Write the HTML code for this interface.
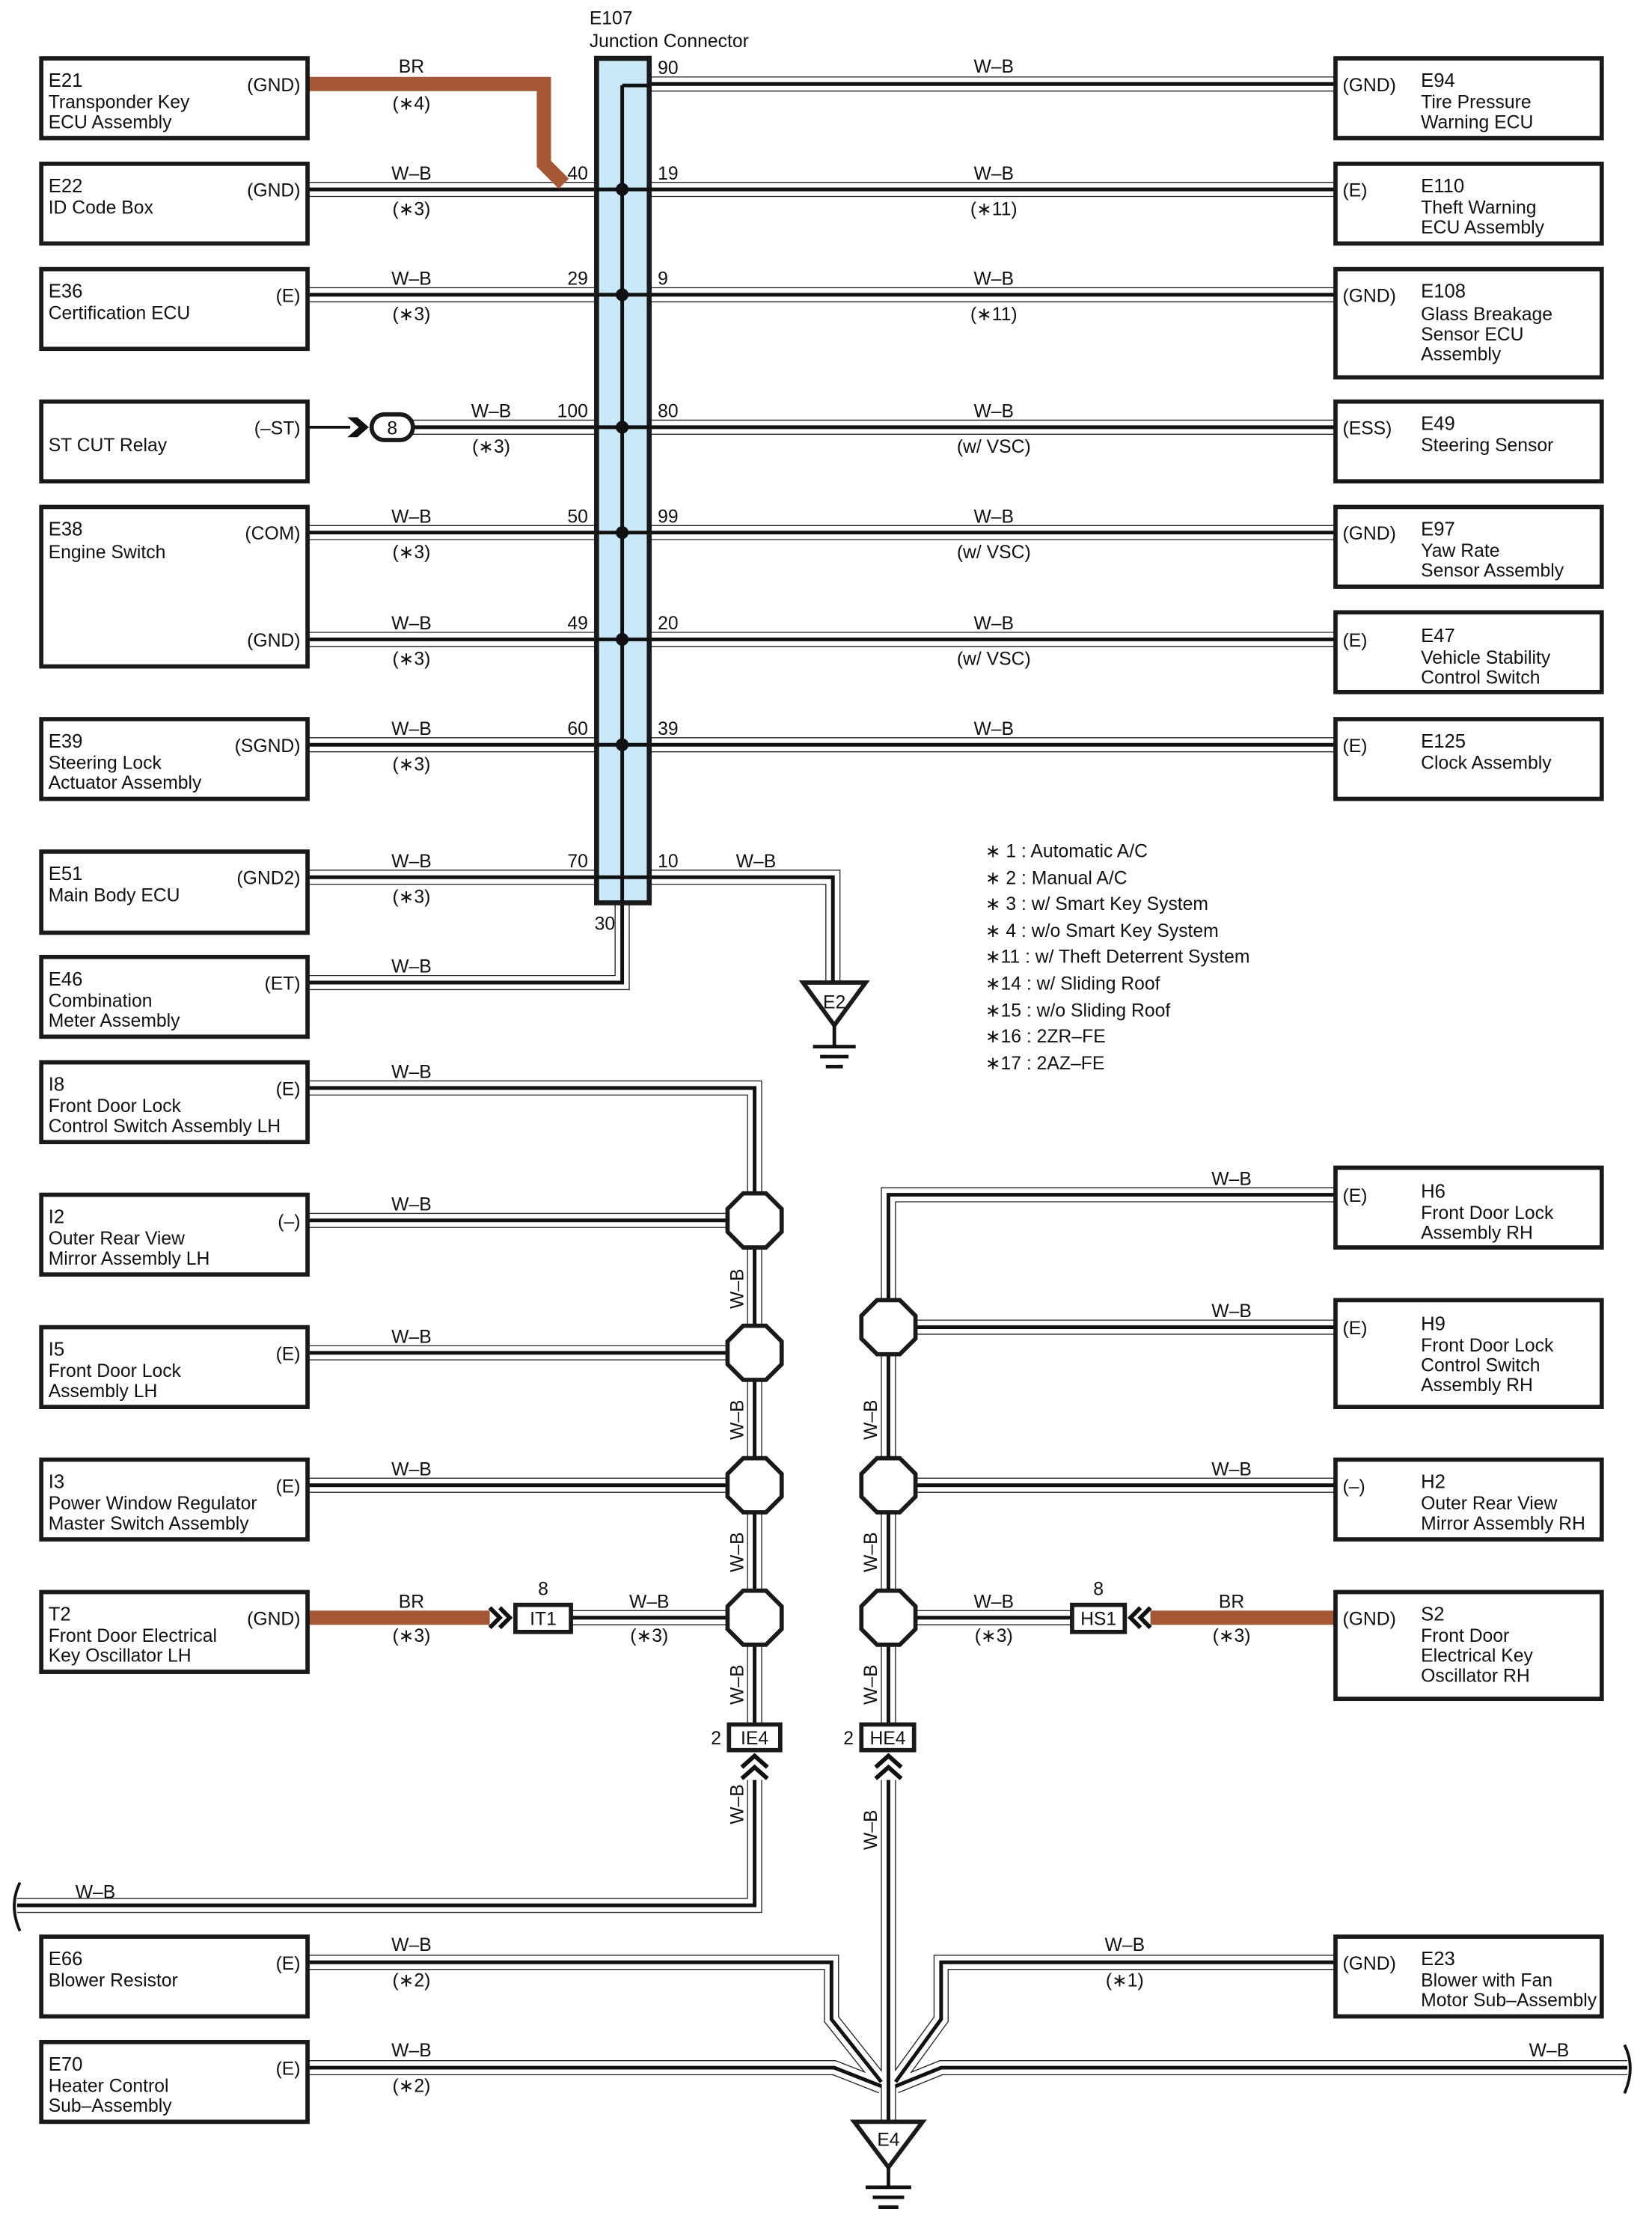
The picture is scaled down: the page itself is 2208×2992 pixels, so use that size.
<!DOCTYPE html>
<html><head><meta charset="utf-8">
<style>
html,body{margin:0;padding:0;background:#fff;}
svg{display:block;}
text{font-family:"Liberation Sans",sans-serif;font-size:13px;fill:#111;}
.b{fill:#fff;stroke:#1a1a1a;stroke-width:3;}
.id{font-size:13.5px;}
</style></head><body>
<svg width="2208" height="2992" viewBox="0 0 1160.3 1572.3" xmlns="http://www.w3.org/2000/svg">
<defs>
<g id="w" fill="none">
<path d="M216 133H419M456 133H938"/>
<path d="M216 207H419M456 207H938"/>
<path d="M290 300H419M456 300H938"/>
<path d="M216 374H419M456 374H938"/>
<path d="M216 449H419M456 449H938"/>
<path d="M216 523H419M456 523H938"/>
<path d="M216 616H419M456 616H585V690"/>
<path d="M216 690H437V635"/>
<path d="M456 59H938"/>
<path d="M216 764H530V1210"/>
<path d="M216 857H530M216 950H530M216 1043H530M401 1136H530"/>
<path d="M530 1250V1338H12"/>
<path d="M938 839H624V1210"/>
<path d="M938 932H624M938 1043H624M753 1136H624"/>
<path d="M624 1250V1490"/>
<path d="M216 1378H584V1418L619 1462"/>
<path d="M216 1452H586L619 1465"/>
<path d="M938 1378H661V1418L629 1462"/>
<path d="M1143 1452H661L629 1465"/>
</g>
</defs>
<use href="#w" stroke="#222" stroke-width="10.6"/>
<use href="#w" stroke="#fff" stroke-width="9.2"/>
<use href="#w" stroke="#111" stroke-width="2.6"/>

<!-- brown wires -->
<path d="M216 59H382V115L396 129" fill="none" stroke="#a65734" stroke-width="10"/>
<path d="M216 1136H344" stroke="#a65734" stroke-width="10"/>
<path d="M808 1136H938" stroke="#a65734" stroke-width="10"/>

<!-- junction connector -->
<rect x="419" y="41" width="37" height="593" fill="#c9e9f9" stroke="#1a1a1a" stroke-width="3.5"/>
<path d="M437 60V634M437 60H456" stroke="#111" stroke-width="2.6" fill="none"/>
<g stroke="#111" stroke-width="2.6">
<path d="M419 133H456M419 207H456M419 300H456M419 374H456M419 449H456M419 523H456M419 616H456"/>
</g>
<g fill="#111">
<circle cx="437" cy="133" r="4.5"/><circle cx="437" cy="207" r="4.5"/><circle cx="437" cy="300" r="4.5"/>
<circle cx="437" cy="374" r="4.5"/><circle cx="437" cy="449" r="4.5"/><circle cx="437" cy="523" r="4.5"/>
</g>
<text x="414" y="17">E107</text>
<text x="414" y="33">Junction Connector</text>

<!-- pin numbers -->
<g text-anchor="end">
<text x="413" y="126">40</text><text x="413" y="200">29</text><text x="413" y="293">100</text>
<text x="413" y="367">50</text><text x="413" y="442">49</text><text x="413" y="516">60</text>
<text x="413" y="609">70</text><text x="432" y="653">30</text>
</g>
<g>
<text x="462" y="52">90</text><text x="462" y="126">19</text><text x="462" y="200">9</text>
<text x="462" y="293">80</text><text x="462" y="367">99</text><text x="462" y="442">20</text>
<text x="462" y="516">39</text><text x="462" y="609">10</text>
</g>

<!-- wire labels -->
<g text-anchor="middle">
<text x="289" y="51">BR</text><text x="289" y="77">(∗4)</text>
<text x="289" y="126">W–B</text><text x="289" y="151">(∗3)</text>
<text x="289" y="200">W–B</text><text x="289" y="225">(∗3)</text>
<text x="345" y="293">W–B</text><text x="345" y="318">(∗3)</text>
<text x="289" y="367">W–B</text><text x="289" y="392">(∗3)</text>
<text x="289" y="442">W–B</text><text x="289" y="467">(∗3)</text>
<text x="289" y="516">W–B</text><text x="289" y="541">(∗3)</text>
<text x="289" y="609">W–B</text><text x="289" y="634">(∗3)</text>
<text x="289" y="683">W–B</text>
<text x="698" y="51">W–B</text>
<text x="698" y="126">W–B</text><text x="698" y="151">(∗11)</text>
<text x="698" y="200">W–B</text><text x="698" y="225">(∗11)</text>
<text x="698" y="293">W–B</text><text x="698" y="318">(w/ VSC)</text>
<text x="698" y="367">W–B</text><text x="698" y="392">(w/ VSC)</text>
<text x="698" y="442">W–B</text><text x="698" y="467">(w/ VSC)</text>
<text x="698" y="516">W–B</text>
<text x="531" y="609">W–B</text>
<text x="289" y="757">W–B</text><text x="289" y="850">W–B</text><text x="289" y="943">W–B</text>
<text x="289" y="1036">W–B</text>
<text x="289" y="1129">BR</text><text x="289" y="1153">(∗3)</text>
<text x="456" y="1129">W–B</text><text x="456" y="1153">(∗3)</text>
<text x="865" y="832">W–B</text><text x="865" y="925">W–B</text><text x="865" y="1036">W–B</text>
<text x="698" y="1129">W–B</text><text x="698" y="1153">(∗3)</text>
<text x="865" y="1129">BR</text><text x="865" y="1153">(∗3)</text>
<text x="67" y="1333">W–B</text>
<text x="289" y="1370">W–B</text><text x="289" y="1395">(∗2)</text>
<text x="289" y="1444">W–B</text><text x="289" y="1469">(∗2)</text>
<text x="790" y="1370">W–B</text><text x="790" y="1395">(∗1)</text>
<text x="1088" y="1444">W–B</text>
</g>
<g text-anchor="middle">
<text transform="translate(522 905) rotate(-90)">W–B</text>
<text transform="translate(522 997) rotate(-90)">W–B</text>
<text transform="translate(522 1090) rotate(-90)">W–B</text>
<text transform="translate(522 1183) rotate(-90)">W–B</text>
<text transform="translate(522 1267) rotate(-90)">W–B</text>
<text transform="translate(616 997) rotate(-90)">W–B</text>
<text transform="translate(616 1090) rotate(-90)">W–B</text>
<text transform="translate(616 1183) rotate(-90)">W–B</text>
<text transform="translate(616 1285) rotate(-90)">W–B</text>
</g>

<!-- ST CUT connector -->
<path d="M216 300H246" stroke="#111" stroke-width="2"/>
<path d="M244 293L252 300L244 307H251L259 300L251 293Z" fill="#111"/>
<rect x="261" y="291" width="29" height="18" rx="9" fill="#fff" stroke="#1a1a1a" stroke-width="3"/>
<text x="275.5" y="305" text-anchor="middle">8</text>

<!-- IT1 / HS1 -->
<path d="M344 1129L351 1136L344 1143M351 1129L358 1136L351 1143" fill="none" stroke="#111" stroke-width="3"/>
<rect x="362" y="1127" width="39" height="19" class="b"/>
<text x="381.5" y="1141" text-anchor="middle">IT1</text>
<text x="381.5" y="1120" text-anchor="middle">8</text>
<path d="M808 1129L801 1136L808 1143M801 1129L794 1136L801 1143" fill="none" stroke="#111" stroke-width="3"/>
<rect x="753" y="1127" width="37" height="19" class="b"/>
<text x="771.5" y="1141" text-anchor="middle">HS1</text>
<text x="771.5" y="1120" text-anchor="middle">8</text>

<!-- IE4 / HE4 -->
<rect x="512" y="1211" width="36" height="18" class="b"/>
<text x="530" y="1225" text-anchor="middle">IE4</text><text x="503" y="1225" text-anchor="middle">2</text>
<path d="M521 1241L530 1233L539 1241M521 1249L530 1241L539 1249" fill="none" stroke="#111" stroke-width="3"/>
<rect x="605" y="1211" width="37" height="18" class="b"/>
<text x="623.5" y="1225" text-anchor="middle">HE4</text><text x="596" y="1225" text-anchor="middle">2</text>
<path d="M615 1241L624 1233L633 1241M615 1249L624 1241L633 1249" fill="none" stroke="#111" stroke-width="3"/>

<!-- splices -->
<g class="b">
<polygon id="oc" points="-8,-19 8,-19 19,-8 19,8 8,19 -8,19 -19,8 -19,-8" transform="translate(530 857)"/>
<polygon points="-8,-19 8,-19 19,-8 19,8 8,19 -8,19 -19,8 -19,-8" transform="translate(530 950)"/>
<polygon points="-8,-19 8,-19 19,-8 19,8 8,19 -8,19 -19,8 -19,-8" transform="translate(530 1043)"/>
<polygon points="-8,-19 8,-19 19,-8 19,8 8,19 -8,19 -19,8 -19,-8" transform="translate(530 1136)"/>
<polygon points="-8,-19 8,-19 19,-8 19,8 8,19 -8,19 -19,8 -19,-8" transform="translate(624 932)"/>
<polygon points="-8,-19 8,-19 19,-8 19,8 8,19 -8,19 -19,8 -19,-8" transform="translate(624 1043)"/>
<polygon points="-8,-19 8,-19 19,-8 19,8 8,19 -8,19 -19,8 -19,-8" transform="translate(624 1136)"/>
</g>

<!-- grounds -->
<polygon points="564,690 608,690 586,720" class="b"/>
<text x="586" y="708" text-anchor="middle">E2</text>
<path d="M586 720V734M571 735H601M576 742H596M580 749H592" stroke="#111" stroke-width="2.5"/>
<polygon points="600,1490 648,1490 624,1522" class="b"/>
<text x="624" y="1507" text-anchor="middle">E4</text>
<path d="M624 1522V1535M608 1536H640M613 1543H635M617 1550H631" stroke="#111" stroke-width="2.5"/>

<!-- break marks -->
<path d="M14 1322Q6 1338 14 1356" fill="none" stroke="#111" stroke-width="2"/>
<path d="M1141 1436Q1149 1452 1141 1470" fill="none" stroke="#111" stroke-width="2"/>

<!-- left boxes -->
<g>
<rect x="29" y="41" width="187" height="56" class="b"/>
<text x="34" y="61" class="id">E21</text><text x="34" y="76">Transponder Key</text><text x="34" y="90">ECU Assembly</text>
<text x="211" y="64" text-anchor="end">(GND)</text>
<rect x="29" y="115" width="187" height="56" class="b"/>
<text x="34" y="135" class="id">E22</text><text x="34" y="150">ID Code Box</text>
<text x="211" y="138" text-anchor="end">(GND)</text>
<rect x="29" y="189" width="187" height="56" class="b"/>
<text x="34" y="209" class="id">E36</text><text x="34" y="224">Certification ECU</text>
<text x="211" y="212" text-anchor="end">(E)</text>
<rect x="29" y="282" width="187" height="56" class="b"/>
<text x="34" y="317">ST CUT Relay</text>
<text x="211" y="305" text-anchor="end">(–ST)</text>
<rect x="29" y="356" width="187" height="112" class="b"/>
<text x="34" y="376" class="id">E38</text><text x="34" y="392">Engine Switch</text>
<text x="211" y="379" text-anchor="end">(COM)</text><text x="211" y="454" text-anchor="end">(GND)</text>
<rect x="29" y="505" width="187" height="56" class="b"/>
<text x="34" y="525" class="id">E39</text><text x="34" y="540">Steering Lock</text><text x="34" y="554">Actuator Assembly</text>
<text x="211" y="528" text-anchor="end">(SGND)</text>
<rect x="29" y="598" width="187" height="57" class="b"/>
<text x="34" y="618" class="id">E51</text><text x="34" y="633">Main Body ECU</text>
<text x="211" y="621" text-anchor="end">(GND2)</text>
<rect x="29" y="672" width="187" height="56" class="b"/>
<text x="34" y="692" class="id">E46</text><text x="34" y="707">Combination</text><text x="34" y="721">Meter Assembly</text>
<text x="211" y="695" text-anchor="end">(ET)</text>
<rect x="29" y="746" width="187" height="56" class="b"/>
<text x="34" y="766" class="id">I8</text><text x="34" y="781">Front Door Lock</text><text x="34" y="795">Control Switch Assembly LH</text>
<text x="211" y="769" text-anchor="end">(E)</text>
<rect x="29" y="839" width="187" height="56" class="b"/>
<text x="34" y="859" class="id">I2</text><text x="34" y="874">Outer Rear View</text><text x="34" y="888">Mirror Assembly LH</text>
<text x="211" y="862" text-anchor="end">(–)</text>
<rect x="29" y="932" width="187" height="56" class="b"/>
<text x="34" y="952" class="id">I5</text><text x="34" y="967">Front Door Lock</text><text x="34" y="981">Assembly LH</text>
<text x="211" y="955" text-anchor="end">(E)</text>
<rect x="29" y="1025" width="187" height="56" class="b"/>
<text x="34" y="1045" class="id">I3</text><text x="34" y="1060">Power Window Regulator</text><text x="34" y="1074">Master Switch Assembly</text>
<text x="211" y="1048" text-anchor="end">(E)</text>
<rect x="29" y="1118" width="187" height="56" class="b"/>
<text x="34" y="1138" class="id">T2</text><text x="34" y="1153">Front Door Electrical</text><text x="34" y="1167">Key Oscillator LH</text>
<text x="211" y="1141" text-anchor="end">(GND)</text>
<rect x="29" y="1360" width="187" height="56" class="b"/>
<text x="34" y="1380" class="id">E66</text><text x="34" y="1395">Blower Resistor</text>
<text x="211" y="1383" text-anchor="end">(E)</text>
<rect x="29" y="1434" width="187" height="56" class="b"/>
<text x="34" y="1454" class="id">E70</text><text x="34" y="1469">Heater Control</text><text x="34" y="1483">Sub–Assembly</text>
<text x="211" y="1457" text-anchor="end">(E)</text>
</g>

<!-- right boxes -->
<g>
<rect x="938" y="41" width="187" height="56" class="b"/>
<text x="943" y="64">(GND)</text><text x="998" y="61" class="id">E94</text><text x="998" y="76">Tire Pressure</text><text x="998" y="90">Warning ECU</text>
<rect x="938" y="115" width="187" height="56" class="b"/>
<text x="943" y="138">(E)</text><text x="998" y="135" class="id">E110</text><text x="998" y="150">Theft Warning</text><text x="998" y="164">ECU Assembly</text>
<rect x="938" y="189" width="187" height="76" class="b"/>
<text x="943" y="212">(GND)</text><text x="998" y="209" class="id">E108</text><text x="998" y="225">Glass Breakage</text><text x="998" y="239">Sensor ECU</text><text x="998" y="253">Assembly</text>
<rect x="938" y="282" width="187" height="56" class="b"/>
<text x="943" y="305">(ESS)</text><text x="998" y="302" class="id">E49</text><text x="998" y="317">Steering Sensor</text>
<rect x="938" y="356" width="187" height="56" class="b"/>
<text x="943" y="379">(GND)</text><text x="998" y="376" class="id">E97</text><text x="998" y="391">Yaw Rate</text><text x="998" y="405">Sensor Assembly</text>
<rect x="938" y="430" width="187" height="56" class="b"/>
<text x="943" y="454">(E)</text><text x="998" y="451" class="id">E47</text><text x="998" y="466">Vehicle Stability</text><text x="998" y="480">Control Switch</text>
<rect x="938" y="505" width="187" height="56" class="b"/>
<text x="943" y="528">(E)</text><text x="998" y="525" class="id">E125</text><text x="998" y="540">Clock Assembly</text>
<rect x="938" y="820" width="187" height="56" class="b"/>
<text x="943" y="844">(E)</text><text x="998" y="841" class="id">H6</text><text x="998" y="856">Front Door Lock</text><text x="998" y="870">Assembly RH</text>
<rect x="938" y="913" width="187" height="75" class="b"/>
<text x="943" y="937">(E)</text><text x="998" y="934" class="id">H9</text><text x="998" y="949">Front Door Lock</text><text x="998" y="963">Control Switch</text><text x="998" y="977">Assembly RH</text>
<rect x="938" y="1025" width="187" height="56" class="b"/>
<text x="943" y="1048">(–)</text><text x="998" y="1045" class="id">H2</text><text x="998" y="1060">Outer Rear View</text><text x="998" y="1074">Mirror Assembly RH</text>
<rect x="938" y="1118" width="187" height="75" class="b"/>
<text x="943" y="1141">(GND)</text><text x="998" y="1138" class="id">S2</text><text x="998" y="1153">Front Door</text><text x="998" y="1167">Electrical Key</text><text x="998" y="1181">Oscillator RH</text>
<rect x="938" y="1360" width="187" height="56" class="b"/>
<text x="943" y="1383">(GND)</text><text x="998" y="1380" class="id">E23</text><text x="998" y="1395">Blower with Fan</text><text x="998" y="1409">Motor Sub–Assembly</text>
</g>

<!-- notes -->
<g>
<text x="692" y="602">∗ 1 : Automatic A/C</text>
<text x="692" y="621">∗ 2 : Manual A/C</text>
<text x="692" y="639">∗ 3 : w/ Smart Key System</text>
<text x="692" y="658">∗ 4 : w/o Smart Key System</text>
<text x="692" y="676">∗11 : w/ Theft Deterrent System</text>
<text x="692" y="695">∗14 : w/ Sliding Roof</text>
<text x="692" y="714">∗15 : w/o Sliding Roof</text>
<text x="692" y="732">∗16 : 2ZR–FE</text>
<text x="692" y="751">∗17 : 2AZ–FE</text>
</g>
</svg>
</body></html>
